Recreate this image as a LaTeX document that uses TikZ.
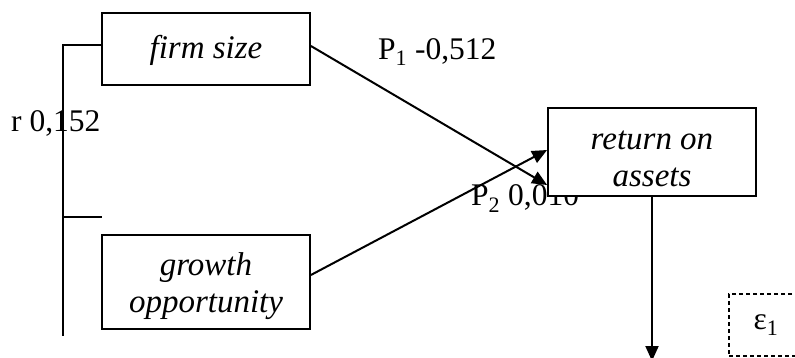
\documentclass[tikz,border=0pt]{standalone}
\usepackage{fontspec}
\setmainfont{Liberation Serif}
\usetikzlibrary{arrows.meta}
\begin{document}
\begin{tikzpicture}[x=1pt,y=-1pt,
  box/.style={draw, line width=1.8pt, fill=white, minimum width=208pt, inner sep=0pt},
  boxtext/.style={align=center, inner sep=0pt, font=\fontsize{33}{37}\selectfont\itshape},
  lbl/.style={font=\fontsize{31.5}{37}\selectfont, inner sep=0pt},
  conn/.style={line width=2pt},
  arr/.style={conn, -{Triangle[length=15pt,width=13pt]}}]
\useasboundingbox (0,0) rectangle (795,358);
% labels drawn first (boxes and lines overlay them)
\node[lbl, anchor=base west] (p2) at (471,206) {P\textsubscript{2} 0,010};
\node[lbl, anchor=base west] (p1) at (378,60) {P\textsubscript{1} -0,512};
\node[lbl, anchor=base west] (r) at (11,132) {r 0,152};
% boxes
\node[box, minimum height=72pt, label={[boxtext, yshift=-1pt]center:firm size}] (fs) at (206,49) {};
\node[box, minimum height=94pt, label={[boxtext, yshift=-4pt]center:growth\\opportunity}] (go) at (206,282) {};
\node[box, minimum height=88pt, label={[boxtext, yshift=-7pt]center:return on\\assets}] (roa) at (652,152) {};
\node[draw, line width=2pt, dash pattern=on 4pt off 3pt, minimum width=74pt, minimum height=62pt, inner sep=0pt, font=\fontsize{31.5}{37}\selectfont] (eps) at (766,325) {ε\textsubscript{1}};
% bracket
\coordinate (bb) at (63,336);
\coordinate (tk0) at (63,217);
\coordinate (tk) at (102,217);
\draw[conn] ([yshift=4pt]fs.west) -| (bb);
\draw[conn] (tk0) -- (tk);
% paths
\draw[arr] ([yshift=3pt]fs.east) -- ([yshift=-33pt]roa.west);
\draw[arr] ([yshift=7pt]go.east) -- ([yshift=2pt]roa.west);
\coordinate (out) at (652,361);
\draw[arr] (roa.south) -- (out);
\end{tikzpicture}
\end{document}
